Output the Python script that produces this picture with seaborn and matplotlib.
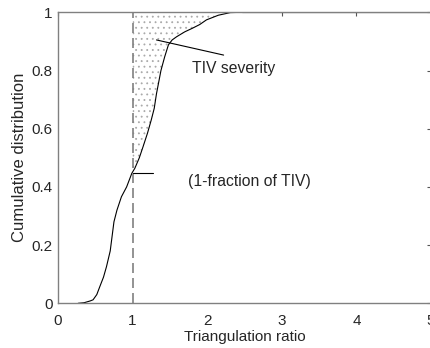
import numpy as np
import pandas as pd
import matplotlib
matplotlib.use("Agg")
import matplotlib.pyplot as plt
import seaborn as sns

# CDF curve of triangulation ratio
ratio = [0.27, 0.35, 0.43, 0.47, 0.52, 0.56, 0.61, 0.65, 0.70, 0.73, 0.75, 0.79,
         0.85, 0.92, 0.99, 1.03, 1.09, 1.14, 1.20, 1.25, 1.29, 1.32, 1.35, 1.38,
         1.43, 1.48, 1.53, 1.59, 1.70, 1.80, 1.90, 1.99, 2.15, 2.31, 2.46]
cdf = [0.0, 0.002, 0.008, 0.012, 0.03, 0.057, 0.09, 0.126, 0.18, 0.24, 0.28, 0.32,
       0.366, 0.40, 0.447, 0.464, 0.50, 0.538, 0.585, 0.63, 0.67, 0.72, 0.76, 0.80,
       0.847, 0.888, 0.905, 0.916, 0.933, 0.945, 0.958, 0.974, 0.99, 0.999, 1.0]
x_ticks = [0, 1, 2, 3, 4, 5]
y_ticks = [0, 0.2, 0.4, 0.6, 0.8, 1]
y_tick_labels = ["0", "0.2", "0.4", "0.6", "0.8", "1"]

sns.set_style("white")
plt.rcParams["font.family"] = ["Liberation Sans", "DejaVu Sans"]
plt.rcParams["hatch.color"] = "#999999"
plt.rcParams["hatch.linewidth"] = 0.6

df = pd.DataFrame({"ratio": ratio, "cdf": cdf})

fig = plt.figure(figsize=(4.30, 3.48), dpi=100)
ax = fig.add_axes([58 / 430, (348 - 303.3) / 348, (431 - 58) / 430, (303.3 - 12.3) / 348])

# shaded TIV severity region between x=1 and the curve
sub = df[df["cdf"] >= 0.447]
ys = np.concatenate([[0.447], sub["cdf"].values, [1.0]])
xs = np.concatenate([[1.0], sub["ratio"].values, [sub["ratio"].values[-1]]])
ax.fill_betweenx(ys, 1.0, xs, facecolor="white", edgecolor="#aaaaaa",
                 hatch="...", linewidth=0)

sns.lineplot(data=df, x="ratio", y="cdf", ax=ax, color="black", linewidth=0.8,
             sort=False, estimator=None)
ax.plot([2.46, 5], [1.0, 1.0], color="black", linewidth=0.8)

ax.axvline(1.0, color="#808080", linestyle=(0, (6, 3)), linewidth=1.2, ymin=0, ymax=1)

# annotations
ax.plot([1.32, 2.22], [0.905, 0.853], color="black", linewidth=0.8)
ax.text(2.36, 0.808, "TIV severity", ha="center", va="center", fontsize=11.3)
ax.plot([1.0, 1.28], [0.447, 0.447], color="black", linewidth=0.8)
ax.text(2.57, 0.42, "(1-fraction of TIV)", ha="center", va="center", fontsize=11.3)

ax.set_xlim(0, 5)
ax.set_ylim(0, 1)
ax.set_xticks(x_ticks)
ax.set_xticklabels([str(t) for t in x_ticks])
ax.set_yticks(y_ticks)
ax.set_yticklabels(y_tick_labels)
ax.tick_params(direction="in", length=3, width=0.8, color="#555555",
               top=True, right=True, labelsize=11)
ax.tick_params(axis="x", pad=8)
ax.tick_params(axis="y", pad=4)
for s in ax.spines.values():
    s.set_color("#808080")
    s.set_linewidth(1.0)
ax.set_xlabel("Triangulation ratio", fontsize=11, labelpad=1)
ax.set_ylabel("Cumulative distribution", fontsize=12, labelpad=3)

fig.savefig("out.png", dpi=100)
